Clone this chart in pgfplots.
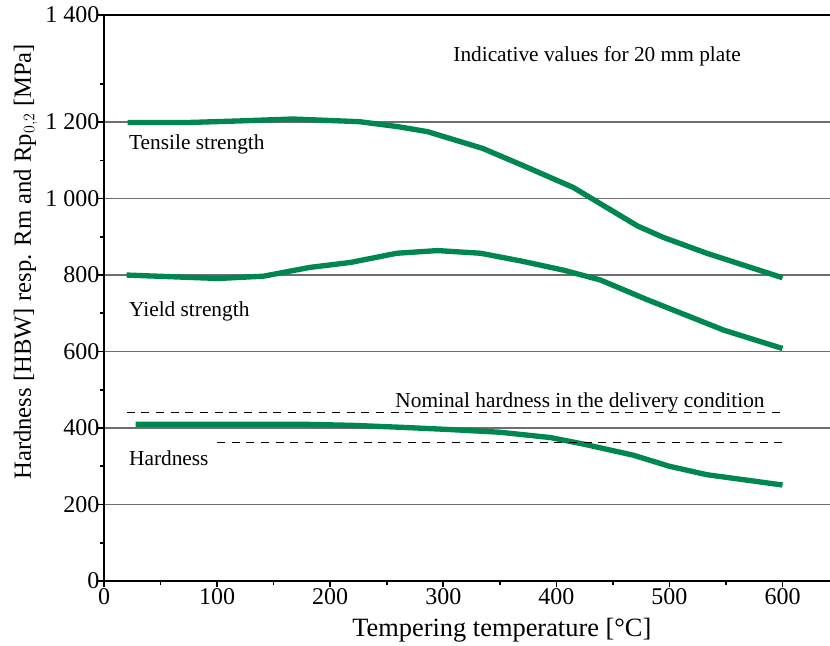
\documentclass[border=0pt]{standalone}
\usepackage{fontspec}
\setmainfont{Liberation Serif}
\usepackage{pgfplots}
\pgfplotsset{compat=1.18}
\definecolor{grn}{HTML}{00864F}
\definecolor{gridc}{HTML}{6E6E6E}
\begin{document}
\begin{tikzpicture}
\begin{axis}[
  scale only axis,
  width=544.5pt, height=424.5pt,
  xmin=0, xmax=642, ymin=0, ymax=1480,
  axis lines=left,
  axis line style={-, line width=2pt, black},
  xtick={0,100,...,600},
  minor xtick={50,150,...,550},
  ytick={0,200,400,600,800,1000,1200,1480},
  yticklabels={0,200,400,600,800,{1 000},{1 200},{1 400}},
  minor ytick={100,300,...,1300},
  tick align=outside,
  major tick length=4.5pt,
  minor tick length=3pt,
  tick style={black, line width=1.2pt},
  ymajorgrids,
  grid style={gridc, line width=1.2pt},
  /pgf/number format/assume math mode=true,
  ticklabel style={font=\fontsize{18}{20}\selectfont},
  yticklabel style={xshift=4.5pt},
  xticklabel style={yshift=2.5pt},
  xlabel={Tempering temperature [°C]},
  ylabel={Hardness [HBW] resp. Rm and Rp$_{0,2}$ [MPa]},
  xlabel style={font=\fontsize{19.8}{22}\selectfont, at={(rel axis cs:0.548,0)}, anchor=center, yshift=-37pt},
  ylabel style={font=\fontsize{18.5}{22}\selectfont, at={(rel axis cs:-0.108,0.564)}, anchor=center},
  clip=false,
  every axis plot/.append style={line join=round},
]
\addplot[grn, line width=4pt] coordinates {(21,1199) (76,1199) (120,1203) (167,1208) (226,1201) (260,1188) (286,1175) (335,1131) (370,1087) (415,1029) (472,928) (495,898) (533,857) (600,793)};
\addplot[grn, line width=4pt] coordinates {(20,800) (101,791) (141,797) (182,820) (218,833) (259,857) (295,864) (333,857) (370,836) (406,813) (439,787) (480,736) (548,656) (600,608)};
\addplot[grn, line width=4pt] coordinates {(28,410) (100,410) (173,410) (220,407) (262,402) (306,396) (350,389) (395,375) (424,358) (468,329) (500,300) (533,278) (600,251)};
\addplot[black, line width=1pt, dash pattern=on 6pt off 5pt] coordinates {(20,440) (600,440)};
\addplot[black, line width=1pt, dash pattern=on 6pt off 5pt] coordinates {(100,362) (600,362)};
\draw[black, line width=1.3pt] (rel axis cs:0,1) -- (rel axis cs:1,1);
\node[font=\fontsize{16}{18}\selectfont, anchor=center, inner sep=0pt] at (axis cs:436,1373) {Indicative values for 20 mm plate};
\node[font=\fontsize{16}{18}\selectfont, anchor=west, inner sep=0pt] at (axis cs:22,1142) {Tensile strength};
\node[font=\fontsize{16}{18}\selectfont, anchor=west, inner sep=0pt] at (axis cs:22,706) {Yield strength};
\node[font=\fontsize{16}{18}\selectfont, anchor=west, inner sep=0pt] at (axis cs:22,322) {Hardness};
\node[font=\fontsize{16}{18}\selectfont, anchor=west, inner sep=0pt] at (axis cs:257.5,468) {Nominal hardness in the delivery condition};
\coordinate (bl) at (rel axis cs:0,0);
\coordinate (tr) at (rel axis cs:1,1);
\end{axis}
\pgfresetboundingbox
\path[use as bounding box] ([shift={(-78pt,-48pt)}]bl) rectangle ([shift={(0pt,11.25pt)}]tr);
\end{tikzpicture}
\end{document}
